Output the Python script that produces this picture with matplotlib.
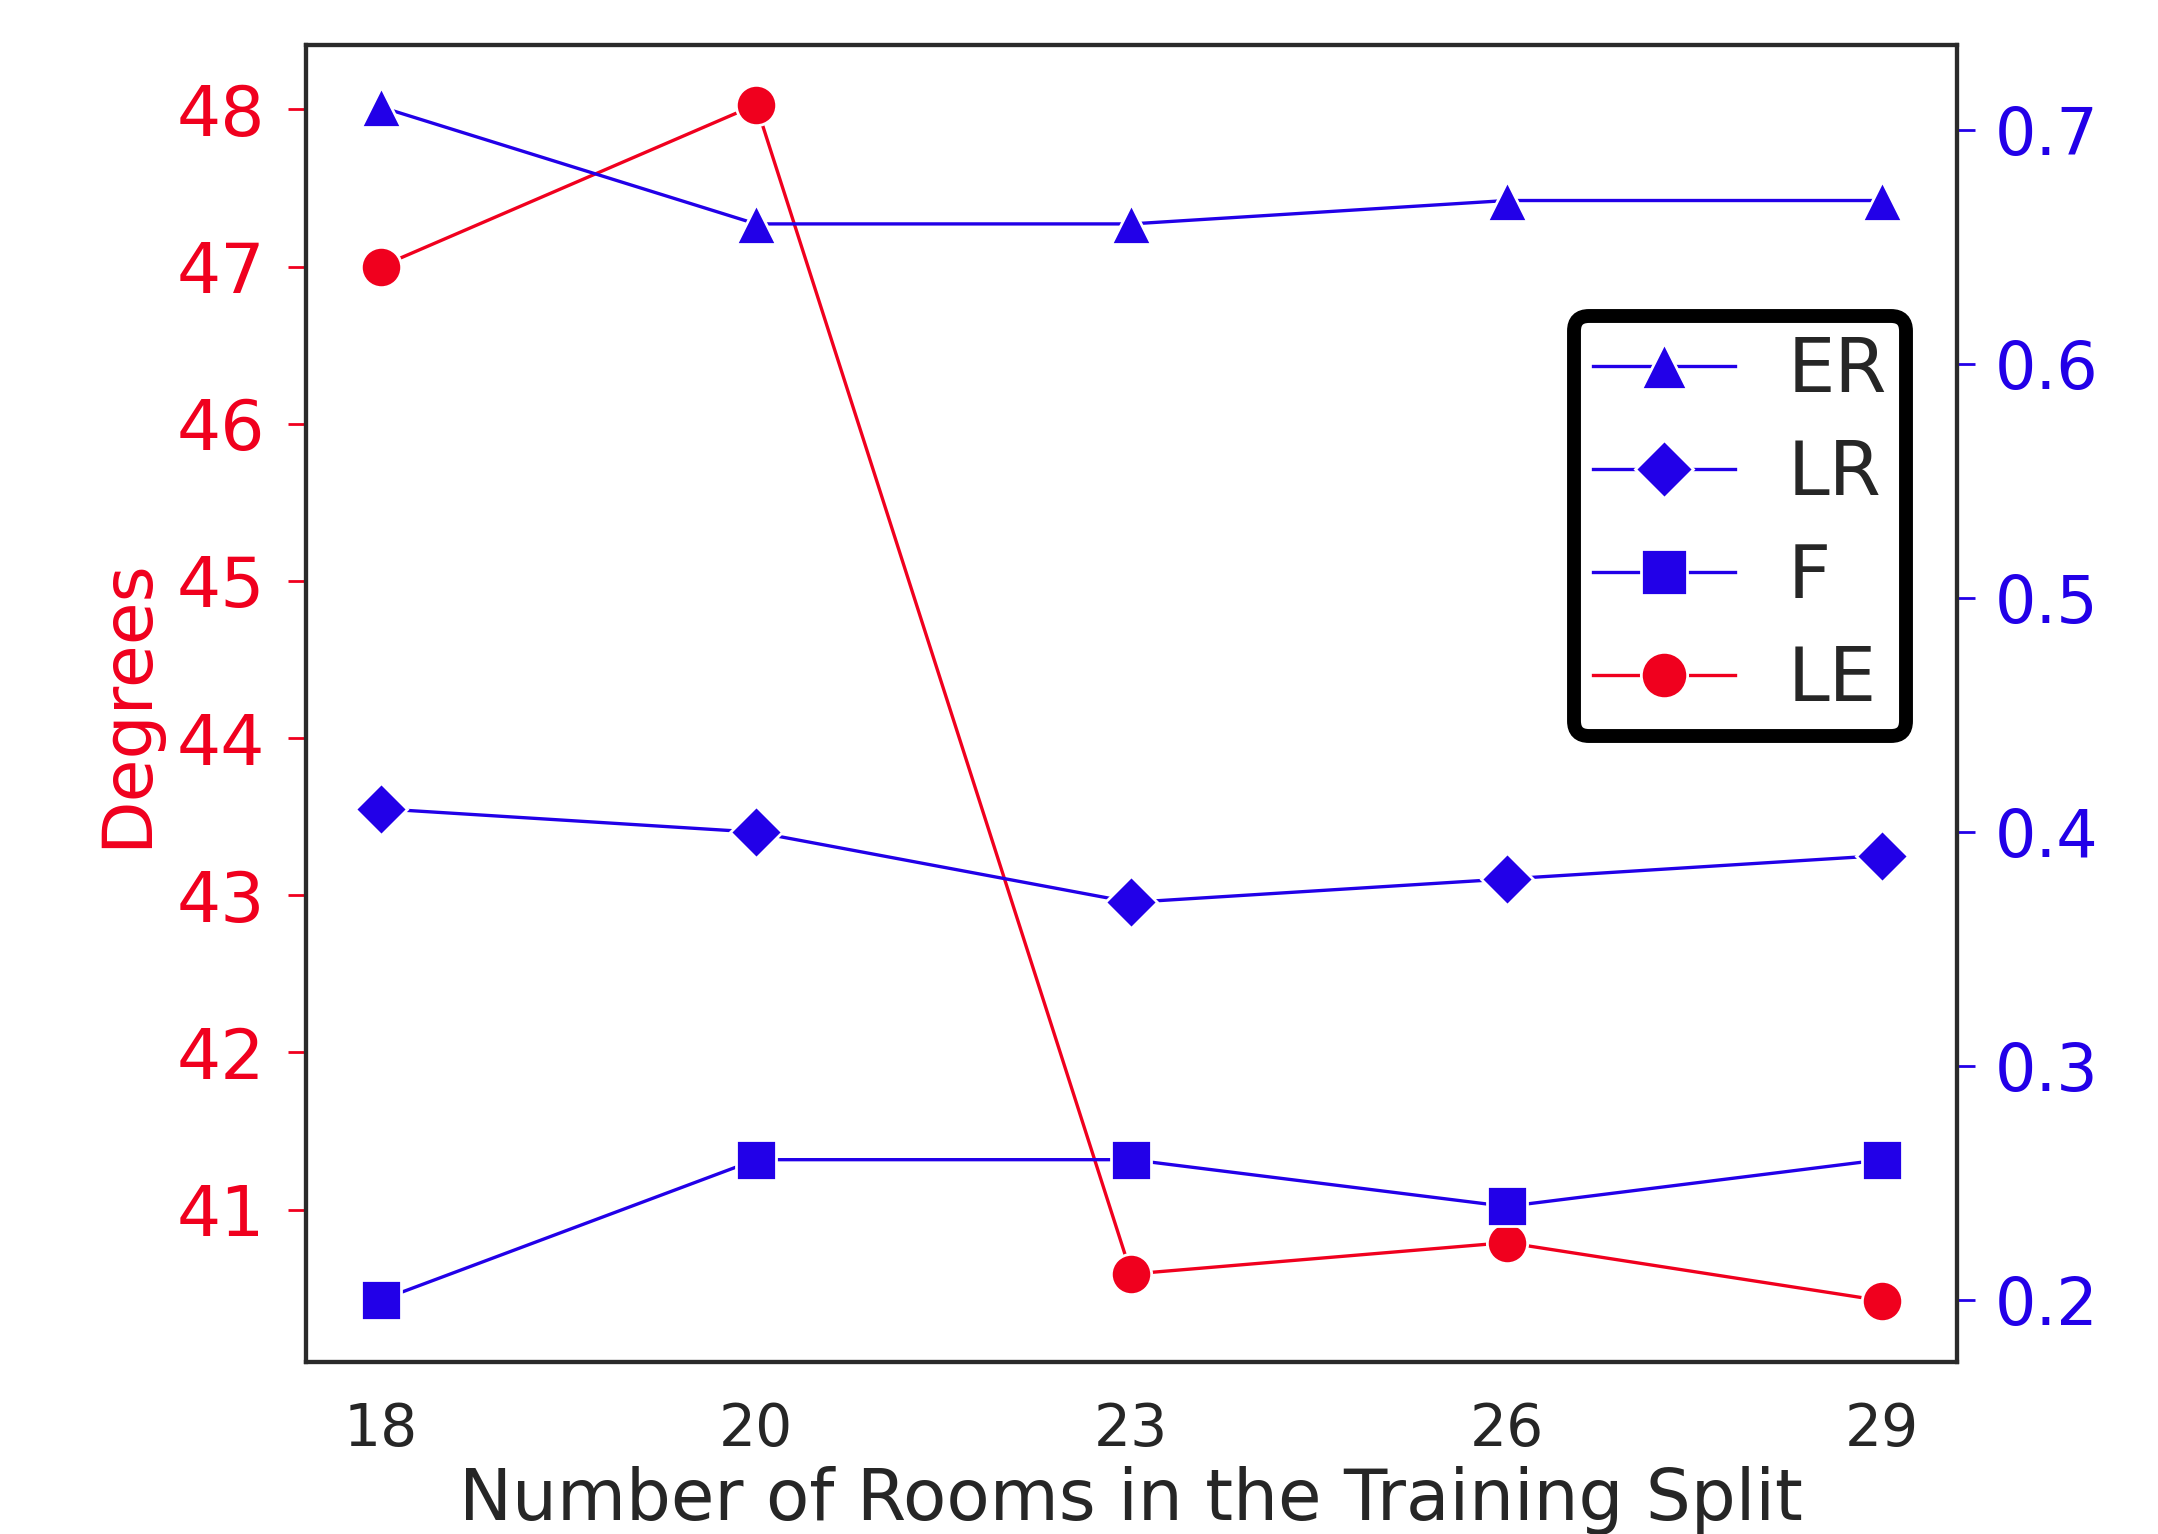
import matplotlib
matplotlib.use("Agg")
import matplotlib.pyplot as plt

# data
rooms = ["18", "20", "23", "26", "29"]
le_deg = [47.0, 48.03, 40.59, 40.79, 40.42]
er = [0.71, 0.66, 0.66, 0.67, 0.67]
lr = [0.41, 0.40, 0.37, 0.38, 0.39]
f_score = [0.20, 0.26, 0.26, 0.24, 0.26]

RED = "#f0001e"
BLUE = "#2200e8"

plt.rcParams['font.family'] = ['DejaVu Sans']

fig = plt.figure(figsize=(10.79, 7.67), dpi=200)
ax = fig.add_axes([0.1416, 0.1121, 0.9069 - 0.1416, 0.9707 - 0.1121])
ax2 = ax.twinx()

x = list(range(len(rooms)))
mk = dict(markersize=14.5, markeredgecolor='white', markeredgewidth=1.0, linewidth=1.2)

h_le, = ax.plot(x, le_deg, color=RED, marker='o', label="LE", **mk)
h_er, = ax2.plot(x, er, color=BLUE, marker='^', label="ER", **mk)
h_lr, = ax2.plot(x, lr, color=BLUE, marker='D', label="LR", **{**mk, 'markersize': 13})
h_f, = ax2.plot(x, f_score, color=BLUE, marker='s', label="F", **mk)

ax.set_xlim(-0.2, 4.2)
ax.set_ylim(40.03, 48.41)
ax2.set_ylim(0.1735, 0.7365)

ax.set_xticks(x)
ax.set_xticklabels(rooms)
ax.set_yticks([41, 42, 43, 44, 45, 46, 47, 48])
ax2.set_yticks([0.2, 0.3, 0.4, 0.5, 0.6, 0.7])

ax.tick_params(axis='x', length=0, pad=14, labelsize=21, labelcolor='#262626')
ax.tick_params(axis='y', colors=RED, length=6.5, width=1, pad=8, labelsize=25)
ax2.tick_params(axis='y', colors=BLUE, length=6.5, width=1, pad=7, labelsize=23.5)

ax.set_xlabel("Number of Rooms in the Training Split", fontsize=25.5, color='#262626', labelpad=3)
ax.set_ylabel("Degrees", fontsize=25, color=RED, labelpad=6)

for a in (ax, ax2):
    for sp in a.spines.values():
        sp.set_color('#2a2a2a')
        sp.set_linewidth(1.5)

leg = ax2.legend(handles=[h_er, h_lr, h_f, h_le], loc='upper right',
                 bbox_to_anchor=(0.969, 0.794), borderaxespad=0,
                 fontsize=27, handlelength=1.9, handletextpad=0.7,
                 labelspacing=0.4, borderpad=0.25, markerscale=1.15,
                 framealpha=1, fancybox=True)
leg.get_frame().set_edgecolor('black')
leg.get_frame().set_linewidth(5)
for t in leg.get_texts():
    t.set_color('#262626')

fig.savefig("out.png", dpi=200)
